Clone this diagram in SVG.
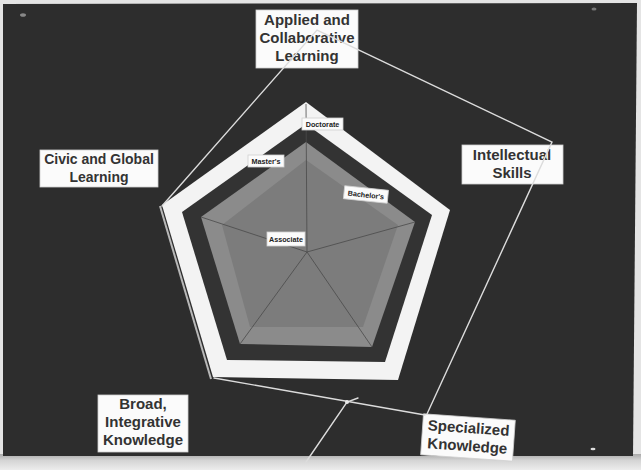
<svg xmlns="http://www.w3.org/2000/svg" width="641" height="470" viewBox="0 0 641 470">
<defs>
<linearGradient id="floor" x1="0" y1="0" x2="0" y2="1">
<stop offset="0" stop-color="#a9a9a9"/>
<stop offset="0.4" stop-color="#d4d4d4"/>
<stop offset="1" stop-color="#ececec"/>
</linearGradient>
<style>
.lbl{fill:#fbfbfb;stroke:#d0d0d0;stroke-width:0.8}
.big{font-family:"Liberation Sans",Arial,sans-serif;font-weight:bold;font-size:15px;fill:#333;text-anchor:middle}
.small{font-family:"Liberation Sans",Arial,sans-serif;font-weight:bold;font-size:7.2px;fill:#222;text-anchor:middle}
.string{fill:none;stroke:#dcdcdc;stroke-width:1.4;stroke-linecap:round}
.spoke{stroke:#4a4a4a;stroke-width:0.8}
</style>
</defs>
<!-- wall and board -->
<rect x="0" y="0" width="641" height="470" fill="#e4e4e4"/>
<rect x="0" y="454" width="641" height="16" fill="url(#floor)"/>
<polygon points="3,4 637,3 633,456 3,456" fill="#2d2d2d"/>
<!-- pins -->
<ellipse cx="23" cy="15" rx="3" ry="1.8" fill="#888"/>
<ellipse cx="594" cy="9" rx="2.5" ry="1.5" fill="#777"/>
<ellipse cx="593" cy="449" rx="2.5" ry="1.3" fill="#ddd"/>

<g id="radar">
<line x1="160" y1="206" x2="211" y2="379" stroke="#b8b8b8" stroke-width="2"/>
<polygon points="306,102 450,210 398,380 213,377 162,205" fill="#f3f3f3"/>
<polygon points="306,124 432,215 385,362 227,360 182,212" fill="#333"/>
<polygon id="masters" points="306,142 415,222 372,347 240,344 201,217" fill="#8b8b8b"/>
<polygon id="bachelors" points="306,160 398,225 363,327 250,327 222,225" fill="#7c7c7c"/>
<g class="spoke">
<line x1="307" y1="252" x2="306" y2="104"/>
<line x1="307" y1="252" x2="415" y2="222"/>
<line x1="307" y1="252" x2="372" y2="347"/>
<line x1="307" y1="252" x2="240" y2="344"/>
<line x1="307" y1="252" x2="201" y2="217"/>
</g>
</g>

<g id="level-doctorate"><rect class="lbl" x="302" y="118" width="41" height="12"/><text class="small" x="322.5" y="127">Doctorate</text></g>
<g id="level-masters"><rect class="lbl" x="248" y="155" width="36" height="12"/><text class="small" x="266" y="164">Master's</text></g>
<g id="level-bachelors" transform="rotate(6 366 194)"><rect class="lbl" x="344" y="188" width="44" height="13"/><text class="small" x="366" y="197.5">Bachelor's</text></g>
<g id="level-associate"><rect class="lbl" x="267" y="232" width="38" height="14"/><text class="small" x="286" y="242">Associate</text></g>

<g id="applied"><rect class="lbl" x="256" y="10" width="102" height="58"/><text class="big" x="307" y="25">Applied and</text><text class="big" x="307" y="43">Collaborative</text><text class="big" x="307" y="61">Learning</text></g>
<g id="civic"><rect class="lbl" x="40" y="150" width="118" height="37"/><text class="big" x="99" y="164" style="font-size:14px">Civic and Global</text><text class="big" x="99" y="182" style="font-size:14px">Learning</text></g>
<g id="intellectual"><rect class="lbl" x="462" y="145" width="101" height="39"/><text class="big" x="512" y="160">Intellectual</text><text class="big" x="512" y="178">Skills</text></g>
<g id="broad"><rect class="lbl" x="98" y="395" width="90" height="57"/><text class="big" x="143" y="409">Broad,</text><text class="big" x="143" y="427">Integrative</text><text class="big" x="143" y="445">Knowledge</text></g>
<g id="specialized" transform="rotate(4 468 437)"><rect class="lbl" x="422" y="417" width="92" height="41"/><text class="big" x="468" y="433">Specialized</text><text class="big" x="468" y="451">Knowledge</text></g>

<g id="connectors">
<polyline class="string" points="162,206 317,30 552,142 427,414"/>
<line class="string" x1="214" y1="378" x2="425" y2="415"/>
<polyline class="string" points="358,398 347,402 306,462"/>
<circle cx="347" cy="402" r="2" fill="#e8e8e8"/>
</g>
</svg>
